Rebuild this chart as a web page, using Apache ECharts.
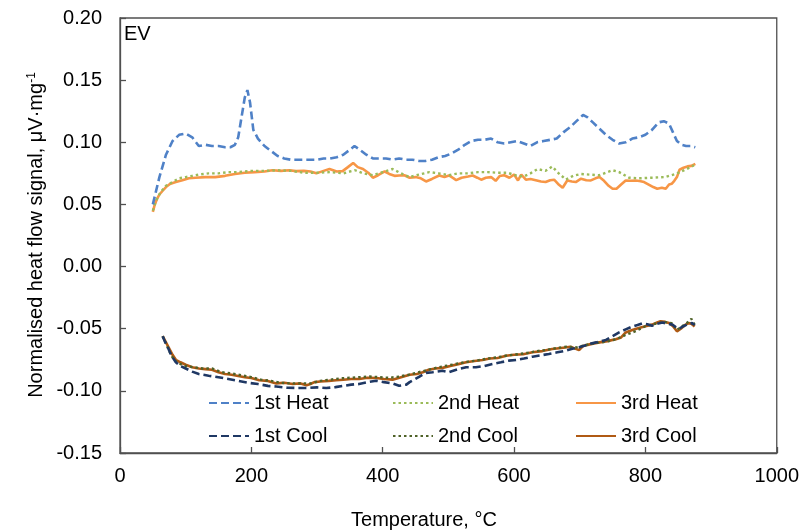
<!DOCTYPE html>
<html>
<head>
<meta charset="utf-8">
<script src="https://cdn.jsdelivr.net/npm/echarts@6/dist/echarts.min.js"></script>
<style>html,body{margin:0;padding:0;background:#fff}#c{width:802px;height:532px}</style>
</head>
<body>
<div id="c"></div>
<script>
const xTicks = [0, 200, 400, 600, 800, 1000];
const yTicks = [-0.15, -0.10, -0.05, 0.00, 0.05, 0.10, 0.15, 0.20];
const seriesNames = ['1st Heat', '2nd Heat', '3rd Heat', '1st Cool', '2nd Cool', '3rd Cool'];

const heat1T = [50,60,70,80,90,100,110,120,130,140,150,160,168,175,180,185,190,194,198,203,210,220,230,240,250,260,270,280,290,300,310,320,330,340,350,357,365,375,385,395,405,415,425,435,445,455,465,475,485,495,505,515,525,535,545,555,565,575,585,595,605,615,625,635,645,655,665,675,685,695,705,712,720,730,740,750,760,770,780,790,800,810,820,828,836,842,848,855,862,870,876];
const heat1V = [0.050,0.072,0.090,0.101,0.106,0.107,0.104,0.097,0.098,0.097,0.097,0.096,0.096,0.098,0.104,0.120,0.136,0.142,0.132,0.110,0.103,0.097,0.093,0.089,0.087,0.086,0.086,0.086,0.086,0.086,0.087,0.087,0.088,0.090,0.094,0.097,0.094,0.090,0.087,0.087,0.087,0.086,0.087,0.086,0.086,0.085,0.085,0.086,0.088,0.089,0.091,0.094,0.098,0.101,0.102,0.102,0.103,0.100,0.099,0.100,0.101,0.099,0.097,0.100,0.101,0.102,0.103,0.108,0.112,0.117,0.122,0.120,0.116,0.111,0.106,0.102,0.099,0.100,0.103,0.104,0.106,0.110,0.116,0.117,0.115,0.108,0.101,0.098,0.097,0.097,0.096];

const heat2T = [50,55,62,70,80,90,100,110,120,135,150,165,180,200,220,240,260,280,300,320,340,350,358,370,385,400,415,428,441,455,471,485,501,515,530,545,560,575,590,605,615,625,636,648,658,668,679,690,702,715,730,742,750,760,775,790,810,830,846,861,874];
const heat2V = [0.045,0.053,0.060,0.065,0.068,0.071,0.072,0.073,0.074,0.075,0.075,0.076,0.076,0.077,0.077,0.0775,0.077,0.0755,0.0755,0.076,0.075,0.0765,0.0775,0.075,0.0735,0.076,0.0785,0.075,0.072,0.074,0.076,0.075,0.0735,0.075,0.075,0.076,0.076,0.0755,0.0755,0.073,0.0725,0.075,0.0785,0.077,0.0805,0.075,0.070,0.073,0.0745,0.074,0.0735,0.076,0.0775,0.076,0.0715,0.071,0.0715,0.072,0.0745,0.078,0.0815];

const heat3T = [50,53,56,60,65,70,76,85,95,105,115,130,145,160,175,190,205,220,232,245,258,268,280,290,299,310,319,330,339,347,355,362,370,378,385,393,403,410,418,425,433,441,450,458,466,475,486,494,501,508,512,520,530,537,544,550,557,565,572,578,585,593,600,606,611,618,625,633,641,648,655,661,667,674,681,688,694,702,710,717,724,730,737,744,750,756,763,770,778,785,791,798,805,812,818,825,831,836,840,844,848,852,858,864,870,876];
const heat3V = [0.044,0.050,0.054,0.058,0.061,0.064,0.0665,0.068,0.0695,0.071,0.0715,0.072,0.072,0.073,0.0745,0.0755,0.076,0.0765,0.0775,0.077,0.0775,0.0768,0.077,0.0765,0.075,0.077,0.0785,0.0765,0.0768,0.080,0.0833,0.080,0.0785,0.0755,0.0715,0.0735,0.0765,0.0745,0.073,0.0733,0.0735,0.0715,0.072,0.071,0.0685,0.0705,0.0733,0.072,0.0733,0.071,0.0695,0.0715,0.0725,0.0733,0.0715,0.0699,0.0715,0.072,0.069,0.0728,0.0735,0.0715,0.074,0.0693,0.074,0.0699,0.0705,0.0695,0.0685,0.068,0.0695,0.0699,0.0665,0.0634,0.0693,0.0685,0.068,0.0707,0.0695,0.0693,0.071,0.072,0.069,0.065,0.0626,0.0626,0.066,0.0693,0.069,0.0693,0.0688,0.068,0.066,0.064,0.0626,0.0635,0.0626,0.066,0.0666,0.069,0.072,0.078,0.0795,0.0806,0.081,0.0827];

const cool1T = [65,68,72,76,80,85,92,100,110,120,135,150,165,180,195,210,225,238,255,270,285,300,314,328,340,352,364,377,390,402,415,425,436,441,448,456,466,476,491,501,516,527,542,555,567,580,592,603,615,628,640,653,666,679,690,699,707,714,725,740,750,760,770,780,788,795,803,810,818,826,834,841,847,851,858,866,871,875];
const cool1V = [-0.056,-0.060,-0.064,-0.069,-0.073,-0.077,-0.080,-0.082,-0.0845,-0.0865,-0.0878,-0.089,-0.0905,-0.092,-0.0935,-0.0945,-0.096,-0.0965,-0.0975,-0.0977,-0.0977,-0.0972,-0.0977,-0.097,-0.096,-0.095,-0.0945,-0.093,-0.0919,-0.093,-0.094,-0.0959,-0.095,-0.093,-0.091,-0.0885,-0.0855,-0.085,-0.0838,-0.085,-0.0824,-0.081,-0.081,-0.080,-0.0784,-0.077,-0.0757,-0.0752,-0.074,-0.0725,-0.0715,-0.0703,-0.069,-0.0677,-0.066,-0.065,-0.0638,-0.0623,-0.061,-0.059,-0.056,-0.053,-0.0505,-0.0483,-0.047,-0.0457,-0.0465,-0.0476,-0.046,-0.045,-0.046,-0.0467,-0.049,-0.050,-0.048,-0.046,-0.0455,-0.047];

const cool2T = [65,70,76,82,90,100,112,125,140,155,170,185,200,215,230,245,260,275,290,305,320,335,350,365,380,395,410,425,440,455,470,485,500,515,530,545,560,575,590,605,620,635,650,665,680,695,710,725,740,755,770,785,800,815,828,840,848,856,864,870,875];
const cool2V = [-0.056,-0.062,-0.069,-0.075,-0.078,-0.080,-0.081,-0.082,-0.082,-0.085,-0.086,-0.0875,-0.089,-0.091,-0.092,-0.0935,-0.094,-0.094,-0.094,-0.092,-0.091,-0.090,-0.0895,-0.089,-0.0885,-0.089,-0.0895,-0.0885,-0.087,-0.085,-0.083,-0.081,-0.0795,-0.078,-0.0765,-0.0755,-0.074,-0.073,-0.0715,-0.0705,-0.0695,-0.068,-0.067,-0.0655,-0.0645,-0.065,-0.063,-0.0615,-0.0605,-0.0585,-0.055,-0.052,-0.048,-0.046,-0.0445,-0.0455,-0.051,-0.048,-0.045,-0.042,-0.047];

const cool3T = [65,68,72,76,80,85,92,100,110,120,130,140,150,160,170,180,190,200,212,225,238,250,263,275,284,290,296,305,318,329,340,352,364,377,390,402,415,428,441,452,461,470,480,491,503,515,527,540,552,563,575,588,600,614,628,643,658,672,686,693,699,705,712,720,730,742,755,763,770,780,790,800,810,818,823,830,836,842,848,854,861,866,870,875];
const cool3V = [-0.056,-0.059,-0.063,-0.067,-0.071,-0.075,-0.077,-0.079,-0.081,-0.082,-0.0825,-0.083,-0.085,-0.0865,-0.087,-0.088,-0.089,-0.0897,-0.0915,-0.092,-0.094,-0.0935,-0.0945,-0.094,-0.0955,-0.0945,-0.093,-0.0925,-0.092,-0.0915,-0.091,-0.0905,-0.0905,-0.0895,-0.0897,-0.0905,-0.091,-0.089,-0.087,-0.0865,-0.085,-0.083,-0.082,-0.0815,-0.080,-0.0785,-0.077,-0.076,-0.0752,-0.074,-0.0735,-0.0717,-0.071,-0.0705,-0.069,-0.068,-0.0663,-0.0655,-0.0645,-0.066,-0.0672,-0.064,-0.063,-0.062,-0.061,-0.060,-0.0585,-0.057,-0.053,-0.051,-0.0494,-0.048,-0.0467,-0.045,-0.044,-0.0445,-0.0454,-0.048,-0.0521,-0.050,-0.0467,-0.0455,-0.046,-0.0483];

const zip = (t, v) => t.map((x, i) => [x, v[i]]);
const seriesData = [zip(heat1T, heat1V), zip(heat2T, heat2V), zip(heat3T, heat3V),
                    zip(cool1T, cool1V), zip(cool2T, cool2V), zip(cool3T, cool3V)];
const colors = ['#4F81C7', '#9BBB59', '#F79646', '#1F3864', '#4F6228', '#B05A14'];
const types = [[8, 4], [2.5, 3], 'solid', [8, 4], [2.5, 3], 'solid'];
const widths = [2.6, 2.4, 2.6, 2.6, 2.4, 2.6];

const FONT = 'Liberation Sans, Arial, sans-serif';
const chart = echarts.init(document.getElementById('c'), null, {renderer: 'canvas'});

const legCols = [208, 392, 575];
const legRows = [393, 426];
const legends = seriesNames.map((n, i) => ({
  data: [n],
  left: legCols[i % 3],
  top: legRows[Math.floor(i / 3)],
  padding: 0,
  itemWidth: 40,
  itemHeight: 14,
  itemGap: 0,
  itemStyle: {opacity: 0, borderWidth: 0},
  textStyle: {fontSize: 20, fontFamily: FONT, color: '#000'}
}));

chart.setOption({
  animation: false,
  backgroundColor: '#fff',
  color: colors,
  grid: {left: 120, right: 24, top: 18, bottom: 79, show: true, borderColor: '#505050', borderWidth: 1.3, backgroundColor: 'transparent'},
  legend: legends,
  xAxis: {
    type: 'value', min: xTicks[0], max: xTicks[xTicks.length - 1], interval: 200,
    axisLine: {show: true, onZero: false, lineStyle: {color: '#505050', width: 1.3}},
    axisTick: {show: true, inside: true, length: 6, lineStyle: {color: '#505050', width: 1.3}},
    axisLabel: {margin: 13, fontSize: 20, fontFamily: FONT, color: '#000',
      formatter: v => xTicks.includes(v) ? String(v) : ''},
    splitLine: {show: false}
  },
  yAxis: {
    type: 'value', min: yTicks[0], max: yTicks[yTicks.length - 1], interval: 0.05,
    axisLine: {show: true, lineStyle: {color: '#505050', width: 1.3}},
    axisTick: {show: true, inside: true, length: 6, lineStyle: {color: '#505050', width: 1.3}},
    axisLabel: {margin: 18, fontSize: 20, fontFamily: FONT, color: '#000',
      formatter: v => Number(v).toFixed(2)},
    splitLine: {show: false}
  },
  graphic: [
    {type: 'text', left: 124, top: 24, style: {text: 'EV', fontSize: 20, fontFamily: FONT, fill: '#000'}},
    {type: 'text', x: 424, y: 520, style: {text: 'Temperature, °C', fontSize: 20, fontFamily: FONT, fill: '#000', align: 'center', verticalAlign: 'middle'}},
    {type: 'text', x: 36, y: 235, rotation: Math.PI / 2,
     style: {text: 'Normalised heat flow signal, μV·mg{sup|-1}', fontSize: 20, fontFamily: FONT, fill: '#000', align: 'center', verticalAlign: 'middle',
       rich: {sup: {fontSize: 12, fontFamily: FONT, fill: '#000', verticalAlign: 'top', padding: [0, 0, 8, 0]}}}}
  ],
  series: seriesNames.map((n, i) => ({
    name: n, type: 'line', data: seriesData[i], showSymbol: false, symbol: 'none',
    lineStyle: {color: colors[i], width: widths[i], type: types[i]},
    itemStyle: {color: colors[i]},
    z: 10 - i
  }))
});
</script>
</body>
</html>
